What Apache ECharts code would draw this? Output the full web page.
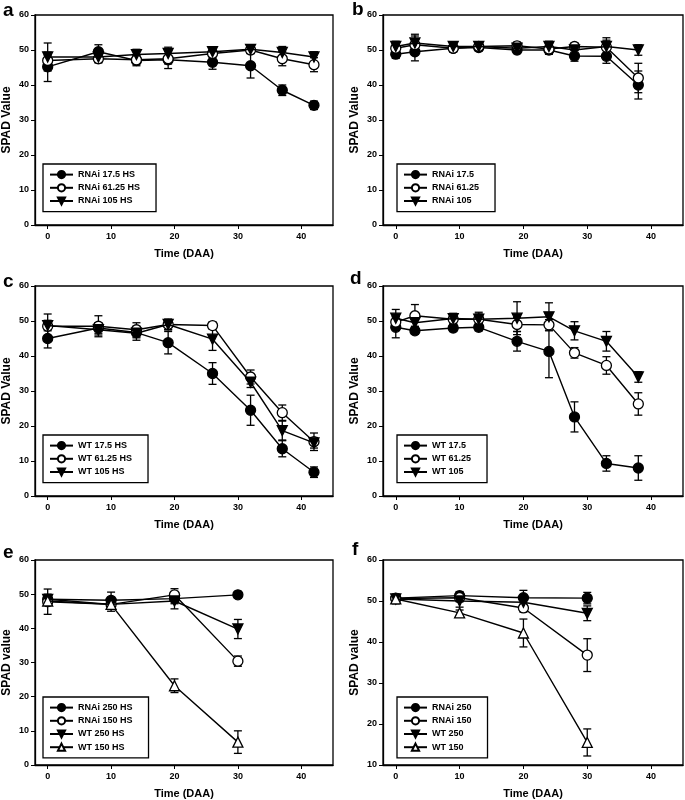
<!DOCTYPE html>
<html><head><meta charset="utf-8">
<script src="https://cdn.jsdelivr.net/npm/echarts@6/dist/echarts.min.js"></script>
<style>html,body{margin:0;padding:0;background:#fff}#c{width:685px;height:800px}</style>
</head><body><div id="c"></div>
<script>
// ---- tick labels ----
const xTicks = [0, 10, 20, 30, 40];
const yTicksMain = [0, 10, 20, 30, 40, 50, 60];
const yTicksF = [10, 20, 30, 40, 50, 60];

// ---- time points ----
const timeAC = [0, 8, 14, 19, 26, 32, 37, 42];
const timeBD = [0, 3, 9, 13, 19, 24, 28, 33, 38];
const timeEF = [0, 10, 20, 30];

// ---- panel a ----
const aNames = ['RNAi 17.5 HS', 'RNAi 61.25 HS', 'RNAi 105 HS'];
const a1 = [45.2, 49.5, 47.0, 47.2, 46.5, 45.5, 38.5, 34.2];
const a1e = [4.2, 2.0, 1.5, 2.5, 2.0, 3.5, 1.5, 1.2];
const a2 = [47.0, 47.5, 47.2, 47.5, 49.0, 50.0, 47.5, 45.8];
const a2e = [1.5, 1.2, 1.2, 1.5, 1.2, 1.0, 2.0, 2.0];
const a3 = [48.0, 48.0, 48.7, 49.0, 49.5, 50.2, 49.3, 48.0];
const a3e = [4.0, 1.5, 1.5, 1.8, 1.3, 1.0, 1.7, 1.5];

// ---- panel b ----
const bNames = ['RNAi 17.5', 'RNAi 61.25', 'RNAi 105'];
const b1 = [48.8, 49.5, 50.5, 50.7, 50.0, 50.0, 48.3, 48.2, 40.0];
const b1e = [1.2, 2.6, 1.0, 1.0, 1.0, 1.2, 1.5, 2.0, 4.0];
const b2 = [50.5, 51.5, 50.5, 51.0, 51.2, 50.3, 51.0, 50.8, 42.0];
const b2e = [1.0, 2.5, 1.0, 1.0, 1.0, 1.5, 1.0, 2.0, 4.2];
const b3 = [51.0, 52.0, 51.0, 51.0, 50.5, 51.0, 50.0, 51.0, 50.0];
const b3e = [1.5, 2.5, 1.0, 1.0, 1.0, 1.5, 1.5, 2.5, 1.5];

// ---- panel c ----
const cNames = ['WT 17.5 HS', 'WT 61.25 HS', 'WT 105 HS'];
const c1 = [45.0, 48.0, 46.7, 43.8, 35.0, 24.5, 13.5, 6.8];
const c1e = [2.7, 1.5, 1.5, 3.2, 3.1, 4.3, 2.3, 1.5];
const c2 = [48.5, 48.5, 47.5, 49.0, 48.7, 34.0, 23.8, 15.5];
const c2e = [3.5, 3.0, 2.0, 1.5, 1.0, 2.0, 2.2, 2.5];
const c3 = [48.7, 47.5, 46.5, 49.0, 44.8, 32.5, 18.7, 15.2];
const c3e = [1.5, 1.5, 2.0, 1.5, 3.2, 1.5, 2.7, 1.5];

// ---- panel d ----
const dNames = ['WT 17.5', 'WT 61.25', 'WT 105'];
const d1 = [48.2, 47.2, 48.0, 48.2, 44.2, 41.3, 22.6, 9.3, 8.0];
const d1e = [3.0, 1.0, 1.0, 1.0, 2.8, 7.5, 4.3, 2.2, 3.5];
const d2 = [49.7, 51.5, 50.5, 50.5, 49.0, 48.9, 40.9, 37.3, 26.3];
const d2e = [1.5, 3.2, 1.5, 1.5, 2.0, 1.5, 1.5, 2.5, 3.2];
const d3 = [50.8, 49.5, 50.7, 50.5, 50.8, 51.2, 47.2, 44.2, 34.0];
const d3e = [2.5, 1.0, 1.5, 2.0, 4.7, 4.0, 2.6, 2.8, 1.5];

// ---- panel e ----
const eNames = ['RNAi 250 HS', 'RNAi 150 HS', 'WT 250 HS', 'WT 150 HS'];
const e1 = [48.5, 48.2, 48.7, 49.8];
const e1e = [1.5, 2.4, 1.5, 1.0];
const e2 = [47.8, 47.0, 49.8, 30.4];
const e2e = [3.7, 1.0, 1.8, 1.5];
const e3 = [48.5, 47.0, 48.0, 39.8];
const e3e = [1.0, 2.0, 2.3, 2.8];
const e4 = [48.0, 47.0, 23.2, 6.7];
const e4e = [1.0, 1.0, 2.0, 3.3];

// ---- panel f ----
const fNames = ['RNAi 250', 'RNAi 150', 'WT 250', 'WT 150'];
const f1 = [50.7, 51.3, 50.8, 50.7];
const f1e = [0.7, 1.0, 1.8, 1.4];
const f2 = [50.6, 50.8, 48.3, 36.8];
const f2e = [0.7, 1.0, 1.0, 4.0];
const f3 = [50.5, 50.0, 49.7, 47.0];
const f3e = [0.7, 1.5, 1.3, 1.8];
const f4 = [50.5, 47.1, 42.2, 15.5];
const f4e = [1.2, 0.7, 3.4, 3.3];

// ---- styles ----
const FONT = 'Arial, "Liberation Sans", Helvetica, sans-serif';
const TRI_DOWN = 'path://M0,0L10,0L5,9Z';
const styles = [
  { symbol: 'circle', fill: '#000' },
  { symbol: 'circle', fill: '#fff' },
  { symbol: TRI_DOWN, fill: '#000' },
  { symbol: 'triangle', fill: '#fff' }
];

const panels = [
  { letter: 'a', grid: [32, 15, 301, 210], yMin: 0, yName: 'SPAD Value', t: timeAC, names: aNames, vals: [a1, a2, a3], errs: [a1e, a2e, a3e], legend: [43, 164], letterPos: [3, 1] },
  { letter: 'b', grid: [383, 15, 300, 210], yMin: 0, yName: 'SPAD Value', t: timeBD, names: bNames, vals: [b1, b2, b3], errs: [b1e, b2e, b3e], legend: [397, 164], letterPos: [352, 0] },
  { letter: 'c', grid: [32, 286, 301, 210], yMin: 0, yName: 'SPAD Value', t: timeAC, names: cNames, vals: [c1, c2, c3], errs: [c1e, c2e, c3e], legend: [43, 435], letterPos: [3, 272] },
  { letter: 'd', grid: [383, 286, 300, 210], yMin: 0, yName: 'SPAD Value', t: timeBD, names: dNames, vals: [d1, d2, d3], errs: [d1e, d2e, d3e], legend: [397, 435], letterPos: [350, 269] },
  { letter: 'e', grid: [32, 560, 301, 209], yMin: 0, yName: 'SPAD value', t: timeEF, names: eNames, vals: [e1, e2, e3, e4], errs: [e1e, e2e, e3e, e4e], legend: [43, 697], letterPos: [3, 543] },
  { letter: 'f', grid: [383, 560, 300, 209], yMin: 10, yName: 'SPAD value', t: timeEF, names: fNames, vals: [f1, f2, f3, f4], errs: [f1e, f2e, f3e, f4e], legend: [397, 697], letterPos: [352, 540] }
];

const grids = [], xAxes = [], yAxes = [], series = [], legends = [], graphics = [];

function errRender(params, api) {
  const x = api.value(0), lo = api.value(1), hi = api.value(2);
  const p1 = api.coord([x, lo]), p2 = api.coord([x, hi]);
  const w = 4;
  const st = { stroke: '#000', lineWidth: 1.3 };
  return {
    type: 'group',
    children: [
      { type: 'line', shape: { x1: p1[0], y1: p1[1], x2: p2[0], y2: p2[1] }, style: st },
      { type: 'line', shape: { x1: p1[0] - w, y1: p1[1], x2: p1[0] + w, y2: p1[1] }, style: st },
      { type: 'line', shape: { x1: p2[0] - w, y1: p2[1], x2: p2[0] + w, y2: p2[1] }, style: st }
    ]
  };
}

panels.forEach((p, i) => {
  grids.push({
    left: p.grid[0], top: p.grid[1], width: p.grid[2], height: p.grid[3],
    show: true, borderColor: '#000', borderWidth: 1.3, backgroundColor: 'transparent'
  });
  xAxes.push({
    type: 'value', gridIndex: i, min: -2, max: 45,
    name: 'Time (DAA)', nameLocation: 'middle', nameGap: 23,
    nameTextStyle: { fontFamily: FONT, fontWeight: 'bold', fontSize: 11, color: '#000' },
    axisLine: { show: true, onZero: false, lineStyle: { color: '#000', width: 1.3 } },
    axisTick: { show: true, length: 4, customValues: xTicks, lineStyle: { color: '#000', width: 1 } },
    axisLabel: { customValues: xTicks, margin: 7, fontFamily: FONT, fontWeight: 'bold', fontSize: 9, color: '#000' },
    splitLine: { show: false }
  });
  yAxes.push({
    type: 'value', gridIndex: i, min: p.yMin, max: 60, interval: 10,
    name: p.yName, nameLocation: 'middle', nameGap: 22, nameRotate: 90,
    nameTextStyle: { fontFamily: FONT, fontWeight: 'bold', fontSize: 12, color: '#000' },
    axisLine: { show: true, onZero: false, lineStyle: { color: '#000', width: 1.3 } },
    axisTick: { show: true, length: 4, lineStyle: { color: '#000', width: 1 } },
    axisLabel: { margin: 6, fontFamily: FONT, fontWeight: 'bold', fontSize: 9, color: '#000' },
    splitLine: { show: false }
  });
  p.vals.forEach((v, k) => {
    series.push({
      type: 'custom', name: p.names[k] + ' err', xAxisIndex: i, yAxisIndex: i,
      renderItem: errRender, z: 1, silent: true,
      encode: { x: 0, y: [1, 2] },
      data: p.t.map((t, j) => [t, v[j] - p.errs[k][j], v[j] + p.errs[k][j]])
    });
  });
  p.vals.forEach((v, k) => {
    const s = styles[k];
    series.push({
      type: 'line', name: p.names[k], xAxisIndex: i, yAxisIndex: i,
      data: p.t.map((t, j) => [t, v[j]]),
      symbol: s.symbol, symbolSize: 10, showAllSymbol: true,
      lineStyle: { color: '#000', width: 1.4 },
      itemStyle: { color: s.fill, borderColor: '#000', borderWidth: 1.3, opacity: 1 },
      z: 2 + k, animation: false
    });
  });
  legends.push({
    data: p.names, left: p.legend[0], top: p.legend[1], orient: 'vertical',
    itemWidth: 23, itemHeight: 9, itemGap: 4,
    padding: [6, 16, 6, 6],
    borderColor: '#000', borderWidth: 1.3, backgroundColor: '#fff',
    selectedMode: false,
    textStyle: { fontFamily: FONT, fontWeight: 'bold', fontSize: 9, color: '#000' }
  });
  graphics.push({
    type: 'text', left: p.letterPos[0], top: p.letterPos[1],
    style: { text: p.letter, fontFamily: FONT, fontWeight: 'bold', fontSize: 19, fill: '#000' }
  });
});

const chart = echarts.init(document.getElementById('c'), null, { renderer: 'canvas' });
chart.setOption({
  animation: false,
  backgroundColor: '#fff',
  grid: grids, xAxis: xAxes, yAxis: yAxes, series: series, legend: legends, graphic: graphics
});
</script>
</body></html>
